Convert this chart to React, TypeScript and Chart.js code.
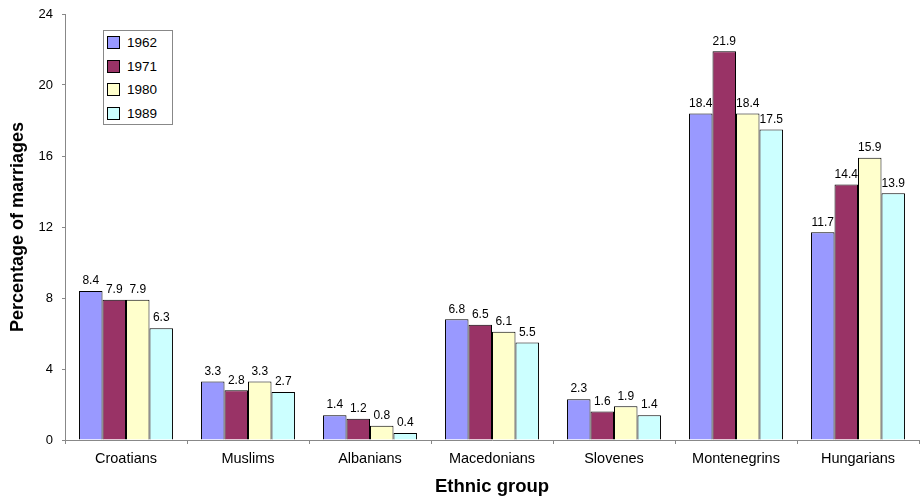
import React, { useEffect, useRef } from "react";
import { Chart, registerables } from "chart.js";

Chart.register(...registerables);

const categories = ["Croatians", "Muslims", "Albanians", "Macedonians", "Slovenes", "Montenegrins", "Hungarians"];
const years = ["1962", "1971", "1980", "1989"];
const v1962 = [8.4, 3.3, 1.4, 6.8, 2.3, 18.4, 11.7];
const v1971 = [7.9, 2.8, 1.2, 6.5, 1.6, 21.9, 14.4];
const v1980 = [7.9, 3.3, 0.8, 6.1, 1.9, 18.4, 15.9];
const v1989 = [6.3, 2.7, 0.4, 5.5, 1.4, 17.5, 13.9];
const colors = ["#9999FF", "#993366", "#FFFFCC", "#CCFFFF"];
const yTicks = [0, 4, 8, 12, 16, 20, 24];

const FONT = "'Liberation Sans', Arial, sans-serif";

const labelPlugin = {
  id: "valueLabels",
  afterDatasetsDraw(chart: any) {
    const ctx = chart.ctx;
    ctx.save();
    ctx.font = `12px ${FONT}`;
    ctx.fillStyle = "#000";
    ctx.textAlign = "center";
    ctx.textBaseline = "bottom";
    chart.data.datasets.forEach((ds: any, i: number) => {
      const meta = chart.getDatasetMeta(i);
      meta.data.forEach((bar: any, j: number) => {
        ctx.fillText(ds.data[j].toFixed(1), bar.x, bar.y - 4);
      });
    });
    ctx.restore();
  },
};

export default function App() {
  const ref = useRef<HTMLCanvasElement>(null);
  useEffect(() => {
    document.body.style.margin = "0";
    const series = [v1962, v1971, v1980, v1989];
    const chart = new Chart(ref.current!, {
      type: "bar",
      data: {
        labels: categories,
        datasets: years.map((y, i) => ({
          label: y,
          data: series[i],
          backgroundColor: colors[i],
          borderColor: "#000",
          borderWidth: 1,
          categoryPercentage: 0.77,
          barPercentage: 1,
        })),
      },
      options: {
        animation: false,
        responsive: false,
        maintainAspectRatio: false,
        layout: { padding: { top: 14, right: 1, left: 0, bottom: 0 } },
        plugins: { legend: { display: false }, tooltip: { enabled: false } },
        scales: {
          x: {
            grid: { drawOnChartArea: false, drawTicks: true, tickLength: 4, color: "#888", offset: true },
            border: { color: "#888" },
            ticks: { color: "#000", font: { family: FONT, size: 14.5 }, padding: 6, maxRotation: 0 },
            title: { display: true, text: "Ethnic group", color: "#000", font: { family: FONT, size: 18.5, weight: "bold" }, padding: { top: 4, bottom: 0 } },
            afterFit: (s: any) => { s.height = 58; s.paddingLeft = 0; s.paddingRight = 0; },
          },
          y: {
            min: 0,
            max: 24,
            afterBuildTicks: (s: any) => { s.ticks = yTicks.map((v) => ({ value: v })); },
            grid: { drawOnChartArea: false, drawTicks: true, tickLength: 3, color: "#888" },
            border: { color: "#888" },
            ticks: { color: "#000", font: { family: FONT, size: 13 }, padding: 9 },
            title: { display: true, text: "Percentage of marriages", color: "#000", font: { family: FONT, size: 18, weight: "bold" }, padding: { top: 7, bottom: 0 } },
            afterFit: (s: any) => { s.width = 65; s.paddingTop = 0; s.paddingBottom = 0; },
          },
        },
      },
      plugins: [labelPlugin],
    });
    return () => chart.destroy();
  }, []);

  return (
    <div style={{ position: "relative", width: 920, height: 498 }}>
      <canvas ref={ref} width={920} height={498} style={{ display: "block" }} />
      <div
        style={{
          position: "absolute",
          left: 103,
          top: 30,
          width: 70,
          height: 95,
          border: "1px solid #888",
          background: "#fff",
          boxSizing: "border-box",
          fontFamily: FONT,
          fontSize: 13.5,
          paddingTop: 0,
        }}
      >
        {years.map((y, i) => (
          <div key={y} style={{ display: "flex", alignItems: "center", height: 23.5, paddingLeft: 3 }}>
            <span
              style={{
                display: "inline-block",
                width: 11,
                height: 11,
                background: colors[i],
                border: "1.5px solid #000",
                marginRight: 7,
              }}
            />
            <span>{y}</span>
          </div>
        ))}
      </div>
    </div>
  );
}
